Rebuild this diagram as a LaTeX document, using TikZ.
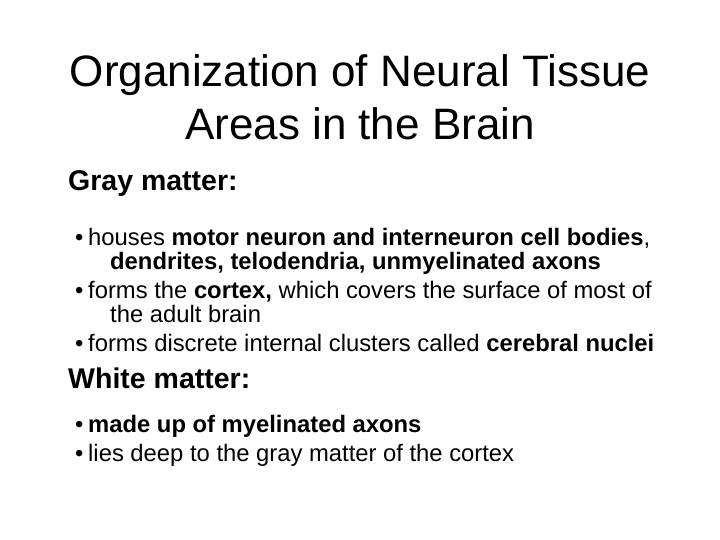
\documentclass[tikz,border=0pt]{standalone}
\usepackage{fontspec}
\setmainfont{Liberation Sans}
\begin{document}
\begin{tikzpicture}[x=1pt,y=-1pt,
  ttl/.style={anchor=base,inner sep=0pt,font=\fontsize{44}{44}\selectfont},
  head/.style={anchor=base west,inner sep=0pt,font=\fontsize{28.5}{28.5}\selectfont\bfseries},
  txt/.style={anchor=base west,inner sep=0pt,font=\fontsize{23.8}{23.8}\selectfont},
  bul/.style={anchor=base west,inner sep=0pt,font=\fontsize{23.8}{23.8}\selectfont}]
\useasboundingbox (0,0) rectangle (720,540);
\node[ttl] (t1) at (360,87) {Organization of Neural Tissue};
\node[ttl] (t2) at (360,140) {Areas in the Brain};
\node[head] (g) at (68,191) {Gray matter:};
\node[bul] (p1) at (75,245) {•};
\node[txt] (b1) at (88,245) {houses \textbf{motor neuron and interneuron cell bodies},};
\node[txt] (b1b) at (110,269) {\textbf{dendrites, telodendria, unmyelinated axons}};
\node[bul] (p2) at (75,298) {•};
\node[txt] (b2) at (88,298) {forms the \textbf{cortex,} which covers the surface of most of};
\node[txt] (b2b) at (110,322) {the adult brain};
\node[bul] (p3) at (75,351) {•};
\node[txt] (b3) at (88,351) {forms discrete internal clusters called \textbf{cerebral nuclei}};
\node[head] (w) at (68,388) {White matter:};
\node[bul] (p4) at (75,432) {•};
\node[txt] (w1) at (88,432) {\textbf{made up of myelinated axons}};
\node[bul] (p5) at (75,461) {•};
\node[txt] (w2) at (88,461) {lies deep to the gray matter of the cortex};
\end{tikzpicture}
\end{document}
